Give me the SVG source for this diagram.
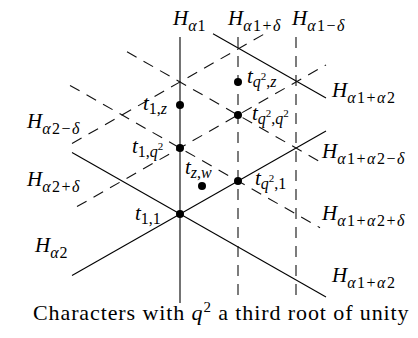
<svg xmlns="http://www.w3.org/2000/svg" width="418" height="338" viewBox="0 0 418 338">
<rect width="418" height="338" fill="#fff"/>
<g id="connectors" stroke="#000" stroke-width="1.1" fill="none">
<line x1="180" y1="37" x2="180" y2="303"/>
<line x1="72" y1="275.5" x2="326" y2="130.9"/>
<line x1="72" y1="152.5" x2="326" y2="297.1"/>
<line x1="213" y1="33.8" x2="326" y2="98"/>
<g stroke="#111" stroke-dasharray="11 8">
<line x1="238" y1="37" x2="238" y2="303"/>
<line x1="296" y1="37" x2="296" y2="303"/>
<line x1="72" y1="143.5" x2="265" y2="33.6"/>
<line x1="77" y1="206.6" x2="326" y2="64.9"/>
<line x1="127" y1="51.8" x2="320" y2="161.7"/>
<line x1="70" y1="85.4" x2="320" y2="227.7"/>
</g>
</g>
<g id="points" fill="#000">
<circle cx="180" cy="214" r="4"/>
<circle cx="180" cy="148" r="4"/>
<circle cx="180" cy="105" r="4"/>
<circle cx="238" cy="82" r="4"/>
<circle cx="238" cy="115" r="4"/>
<circle cx="238" cy="181" r="4"/>
<circle cx="202" cy="186" r="4"/>
</g>
<g id="line-labels">
<text x="173" y="25" font-family="Liberation Serif" font-style="italic" font-size="21">H<tspan dy="6" font-size="16" letter-spacing="1">α<tspan font-style="normal">1</tspan></tspan></text>
<text x="228" y="25" font-family="Liberation Serif" font-style="italic" font-size="21">H<tspan dy="6" font-size="16" letter-spacing="1.5">α<tspan font-style="normal">1+</tspan>δ</tspan></text>
<text x="292" y="25" font-family="Liberation Serif" font-style="italic" font-size="21">H<tspan dy="6" font-size="16" letter-spacing="1.5">α<tspan font-style="normal">1−</tspan>δ</tspan></text>
<text x="332" y="97" font-family="Liberation Serif" font-style="italic" font-size="21">H<tspan dy="6" font-size="16" letter-spacing="1.5">α<tspan font-style="normal">1+</tspan>α<tspan font-style="normal">2</tspan></tspan></text>
<text x="322" y="158" font-family="Liberation Serif" font-style="italic" font-size="21">H<tspan dy="6" font-size="16" letter-spacing="1.5">α<tspan font-style="normal">1+</tspan>α<tspan font-style="normal">2−</tspan>δ</tspan></text>
<text x="322" y="220" font-family="Liberation Serif" font-style="italic" font-size="21">H<tspan dy="6" font-size="16" letter-spacing="1.5">α<tspan font-style="normal">1+</tspan>α<tspan font-style="normal">2+</tspan>δ</tspan></text>
<text x="332" y="282" font-family="Liberation Serif" font-style="italic" font-size="21">H<tspan dy="6" font-size="16" letter-spacing="1.5">α<tspan font-style="normal">1+</tspan>α<tspan font-style="normal">2</tspan></tspan></text>
<text x="27" y="128" font-family="Liberation Serif" font-style="italic" font-size="21">H<tspan dy="6" font-size="16" letter-spacing="1.5">α<tspan font-style="normal">2−</tspan>δ</tspan></text>
<text x="27" y="186" font-family="Liberation Serif" font-style="italic" font-size="21">H<tspan dy="6" font-size="16" letter-spacing="1.5">α<tspan font-style="normal">2+</tspan>δ</tspan></text>
<text x="35" y="252" font-family="Liberation Serif" font-style="italic" font-size="21">H<tspan dy="6" font-size="16" letter-spacing="1">α<tspan font-style="normal">2</tspan></tspan></text>
</g>
<g id="point-labels">
<text x="135" y="220" font-family="Liberation Serif" font-style="italic" font-size="21">t<tspan dy="4" font-size="16" font-style="normal">1,1</tspan></text>
<text x="132" y="153" font-family="Liberation Serif" font-style="italic" font-size="21">t<tspan dy="4" font-size="16"><tspan font-style="normal">1,</tspan>q</tspan><tspan dy="-7" font-size="11" font-style="normal">2</tspan></text>
<text x="143" y="110" font-family="Liberation Serif" font-style="italic" font-size="21">t<tspan dy="4" font-size="16"><tspan font-style="normal">1,</tspan>z</tspan></text>
<text x="185" y="174" font-family="Liberation Serif" font-style="italic" font-size="21">t<tspan dy="4" font-size="16">z<tspan font-style="normal">,</tspan>w</tspan></text>
<text x="247" y="83" font-family="Liberation Serif" font-style="italic" font-size="21">t<tspan dy="4" font-size="16">q</tspan><tspan dy="-7" font-size="11" font-style="normal">2</tspan><tspan dy="7" font-size="16"><tspan font-style="normal">,</tspan>z</tspan></text>
<text x="252" y="120" font-family="Liberation Serif" font-style="italic" font-size="21">t<tspan dy="4" font-size="16">q</tspan><tspan dy="-7" font-size="11" font-style="normal">2</tspan><tspan dy="7" font-size="16"><tspan font-style="normal">,</tspan>q</tspan><tspan dy="-7" font-size="11" font-style="normal">2</tspan></text>
<text x="255" y="185" font-family="Liberation Serif" font-style="italic" font-size="21">t<tspan dy="4" font-size="16">q</tspan><tspan dy="-7" font-size="11" font-style="normal">2</tspan><tspan dy="7" font-size="16" font-style="normal">,1</tspan></text>
</g>
<text id="caption" x="33" y="320" font-family="Liberation Serif" font-style="normal" font-size="22" letter-spacing="0.9">Characters with <tspan font-style="italic">q</tspan><tspan dy="-8" font-size="15">2</tspan><tspan dy="8"> a third root of unity</tspan></text>
</svg>
